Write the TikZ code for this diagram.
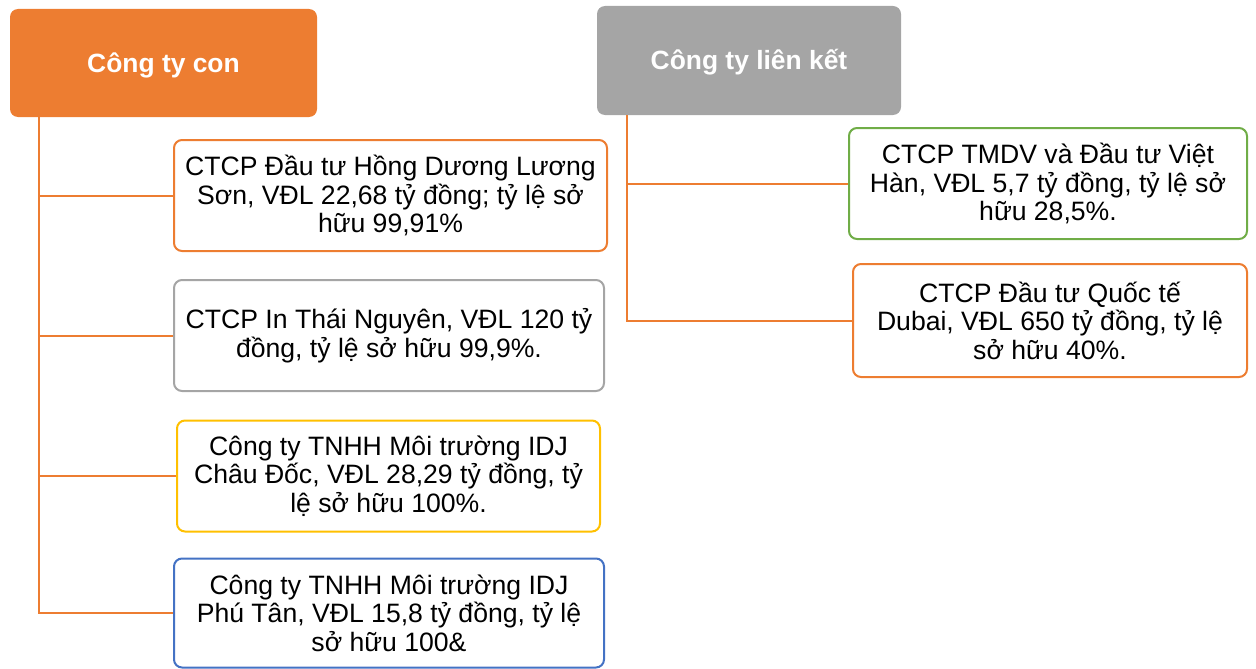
\documentclass[tikz,border=0pt]{standalone}
\usepackage{fontspec}
\setmainfont{Liberation Sans}
\definecolor{cOrange}{HTML}{ED7D31}
\definecolor{cGray}{HTML}{A5A5A5}
\definecolor{cYellow}{HTML}{FFC000}
\definecolor{cBlue}{HTML}{4472C4}
\definecolor{cGreen}{HTML}{70AD47}
\tikzset{
  head/.style={rectangle, rounded corners=8pt, inner sep=0pt, text=white,
    font=\fontsize{26.4}{28}\selectfont\bfseries, align=center},
  item/.style={rectangle, rounded corners=8pt, draw, line width=2pt, fill=white,
    inner sep=0pt, font=\fontsize{26.6}{28.5}\selectfont, align=center},
  conn/.style={draw=cOrange, line width=2pt}
}
\newcommand{\lowerby}[2]{\raisebox{0pt}[\dimexpr\height+#1\relax]{#2}}
\begin{document}
\begin{tikzpicture}[x=1pt,y=-1pt]
\useasboundingbox (0,0) rectangle (1256,669);
% headers
\node[head, fill=cOrange, minimum width=307pt, minimum height=108pt] (h1) at (163.5,63) {\lowerby{4pt}{Công ty con}};
\node[head, fill=cGray, minimum width=304pt, minimum height=109pt] (h2) at (749,60.5) {\lowerby{4pt}{Công ty liên kết}};
% left items
\node[item, draw=cOrange, minimum width=433pt, minimum height=111pt] (b1) at (390.5,195.5)
  {CTCP Đầu tư Hồng Dương Lương\\Sơn, VĐL 22,68 tỷ đồng; tỷ lệ sở\\hữu 99,91\%};
\node[item, draw=cGray, minimum width=430pt, minimum height=111pt] (b2) at (389,335.5)
  {CTCP In Thái Nguyên, VĐL 120 tỷ\\đồng, tỷ lệ sở hữu 99,9\%.};
\node[item, draw=cYellow, minimum width=423pt, minimum height=111pt] (b3) at (388.5,476)
  {Công ty TNHH Môi trường IDJ\\Châu Đốc, VĐL 28,29 tỷ đồng, tỷ\\lệ sở hữu 100\%.};
\node[item, draw=cBlue, minimum width=430pt, minimum height=109pt] (b4) at (389,613)
  {Công ty TNHH Môi trường IDJ\\Phú Tân, VĐL 15,8 tỷ đồng, tỷ lệ\\sở hữu 100\&};
% right items
\node[item, draw=cGreen, minimum width=398pt, minimum height=111pt] (b5) at (1048,183.5)
  {CTCP TMDV và Đầu tư Việt\\Hàn, VĐL 5,7 tỷ đồng, tỷ lệ sở\\hữu 28,5\%.};
\node[item, draw=cOrange, minimum width=394pt, minimum height=113pt] (b6) at (1050,320.5)
  {CTCP Đầu tư Quốc tế\\Dubai, VĐL 650 tỷ đồng, tỷ lệ\\sở hữu 40\%.};
% connectors
\coordinate (l1) at ([xshift=29pt]h1.south west);
\coordinate (l2) at ([xshift=30pt]h2.south west);
\draw[conn] (l1) |- (b1.west);
\draw[conn] (l1) |- (b2.west);
\draw[conn] (l1) |- (b3.west);
\draw[conn] (l1) |- (b4.west);
\draw[conn] (l2) |- (b5.west);
\draw[conn] (l2) |- (b6.west);
\end{tikzpicture}
\end{document}
